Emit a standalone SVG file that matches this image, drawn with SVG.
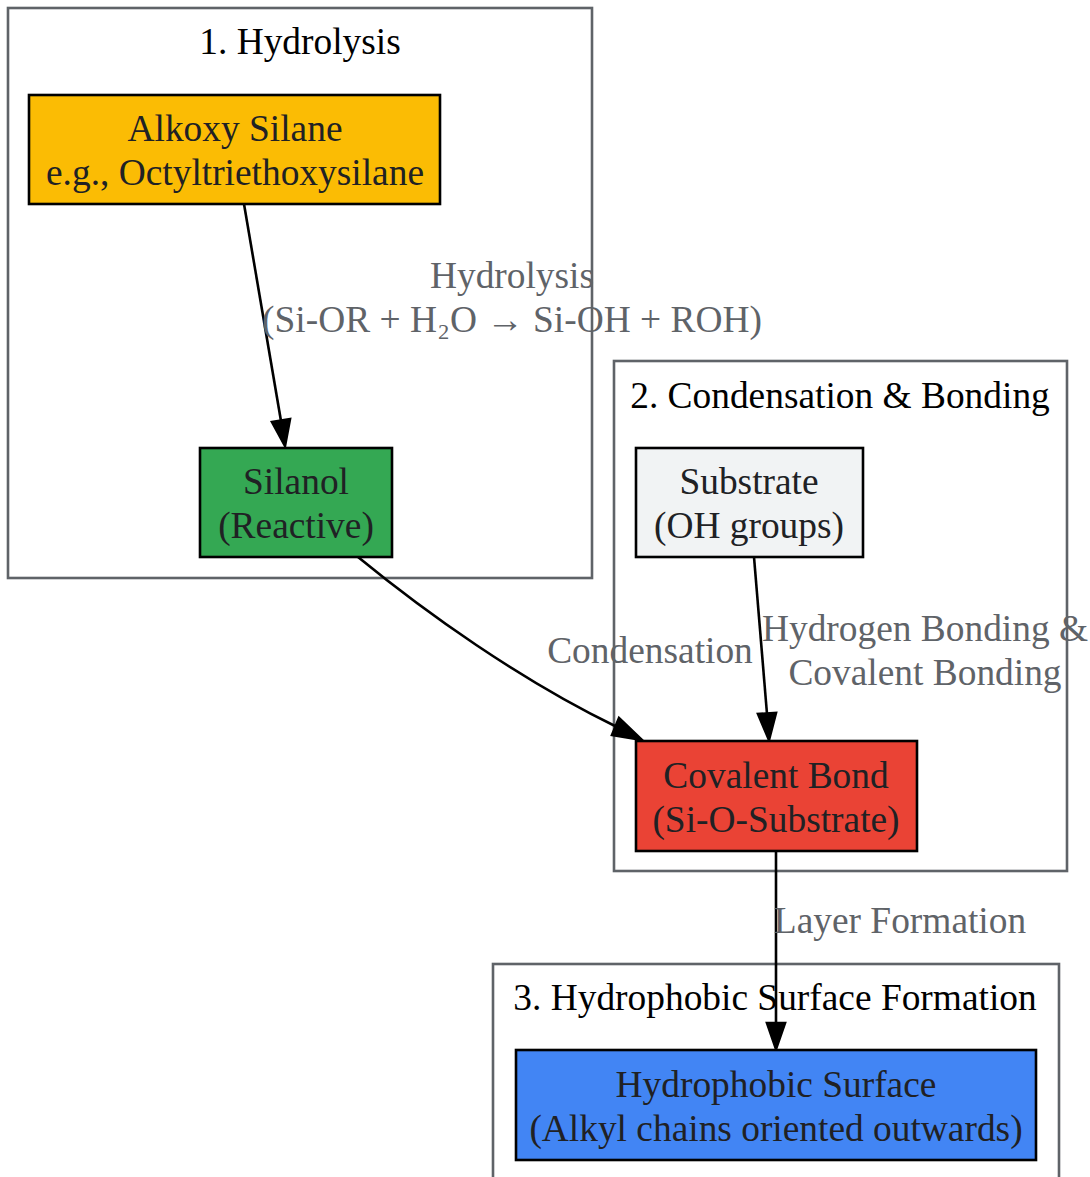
<svg xmlns="http://www.w3.org/2000/svg" width="1090" height="1177" viewBox="0 0 1090 1177">
<style>
text{font-family:"Liberation Serif","Times New Roman",serif;font-size:37.4px;text-anchor:middle}
.cl{fill:none;stroke:#5f6368;stroke-width:2.6}
.ct{fill:#000}
.nd{stroke:#000;stroke-width:2.6}
.nt{fill:#202124}
.el{fill:#5f6368}
.e{fill:none;stroke:#000;stroke-width:2.6}
.ah{fill:#000;stroke:#000;stroke-width:2.6}
</style>
<rect width="1090" height="1177" fill="#fff"/>
<g id="cluster_hydrolysis">
<rect class="cl" x="8" y="8" width="584" height="570"/>
<text class="ct" x="300" y="54">1. Hydrolysis</text>
</g>
<g id="cluster_condensation">
<rect class="cl" x="614" y="361" width="453" height="510"/>
<text class="ct" x="840" y="408">2. Condensation &amp; Bonding</text>
</g>
<g id="cluster_surface">
<rect class="cl" x="493" y="964" width="566" height="230"/>
<text class="ct" x="775" y="1010">3. Hydrophobic Surface Formation</text>
</g>
<g id="connectors">
<path class="e" d="M244,204 L281,421"/>
<polygon class="ah" points="285,446 272,422 290,419"/>
<path class="e" d="M358,557 C425,612 520,680 617,727"/>
<polygon class="ah" points="642,740 612,735 619,718"/>
<path class="e" d="M754,557 L767,714"/>
<polygon class="ah" points="769,740 758,714 776,713"/>
<path class="e" d="M776,851 L776,1023"/>
<polygon class="ah" points="776,1049 767,1023 785,1023"/>
<text class="el" x="512" y="288">Hydrolysis</text>
<text class="el" x="512" y="332">(Si-OR + H₂O → Si-OH + ROH)</text>
<text class="el" x="650" y="663">Condensation</text>
<text class="el" x="925" y="641">Hydrogen Bonding &amp;</text>
<text class="el" x="925" y="685">Covalent Bonding</text>
<text class="el" x="900" y="933">Layer Formation</text>
</g>
<g id="node_alkoxy">
<rect class="nd" x="29" y="95" width="411" height="109" fill="#fbbc04"/>
<text class="nt" x="235" y="141">Alkoxy Silane</text>
<text class="nt" x="235" y="185">e.g., Octyltriethoxysilane</text>
</g>
<g id="node_silanol">
<rect class="nd" x="200" y="448" width="192" height="109" fill="#34a853"/>
<text class="nt" x="296" y="494">Silanol</text>
<text class="nt" x="296" y="538">(Reactive)</text>
</g>
<g id="node_substrate">
<rect class="nd" x="636" y="448" width="227" height="109" fill="#f1f3f4"/>
<text class="nt" x="749" y="494">Substrate</text>
<text class="nt" x="749" y="538">(OH groups)</text>
</g>
<g id="node_covalent">
<rect class="nd" x="636" y="741" width="281" height="110" fill="#ea4335"/>
<text class="nt" x="776" y="788">Covalent Bond</text>
<text class="nt" x="776" y="832">(Si-O-Substrate)</text>
</g>
<g id="node_surface">
<rect class="nd" x="516" y="1050" width="520" height="110" fill="#4285f4"/>
<text class="nt" x="776" y="1097">Hydrophobic Surface</text>
<text class="nt" x="776" y="1141">(Alkyl chains oriented outwards)</text>
</g>
</svg>
